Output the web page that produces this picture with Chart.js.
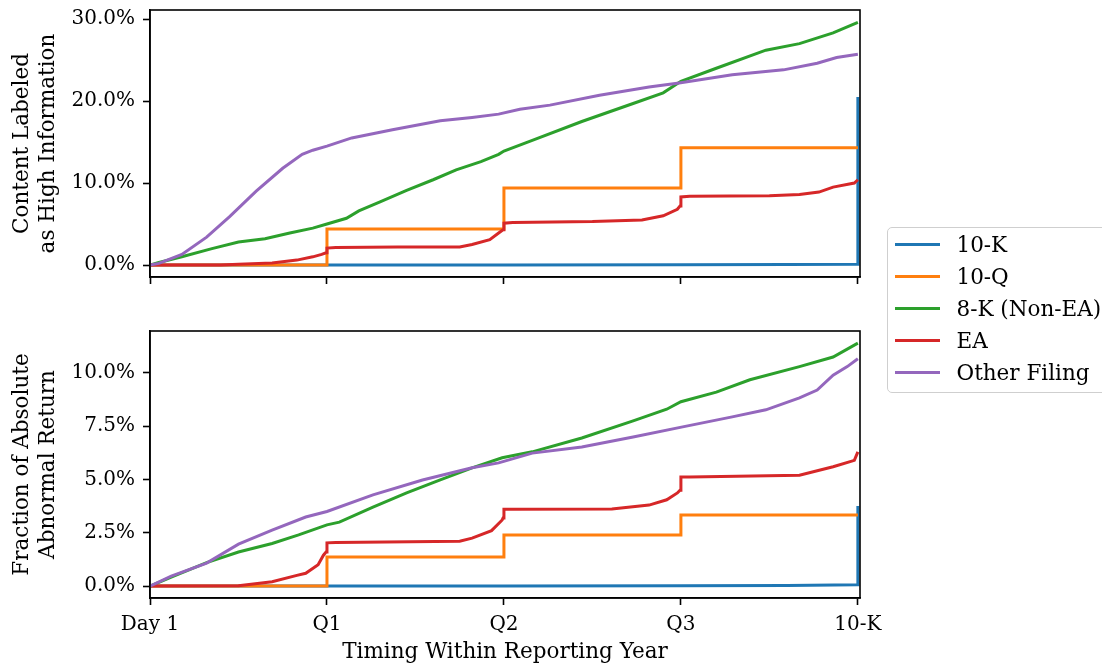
<!DOCTYPE html>
<html>
<head>
<meta charset="utf-8">
<script src="https://cdn.jsdelivr.net/npm/chart.js@4.4.1/dist/chart.umd.min.js"></script>
<style>
    html, body { margin: 0; padding: 0; background: #fff; }
    body { width: 1102px; height: 668px; overflow: hidden; position: relative; font-family: 'DejaVu Serif', serif; }
    #canvasInfo { position: absolute; left: 0; top: 0; }
    #canvasRetorno { position: absolute; left: 0; top: 300px; }
    #leyenda {
        position: absolute; left: 887px; top: 227px; width: 240px; height: 166px;
        box-sizing: border-box; border: 1.5px solid #cfcfcf; border-radius: 5px;
        background: rgba(255, 255, 255, 0.8);
    }
    .item { display: flex; align-items: center; height: 32px; font-size: 21.5px; color: #000; white-space: nowrap; }
    .muestra { width: 45px; height: 3px; margin-left: 6.5px; margin-right: 17px; flex: none; }
</style>
</head>
<body>
<canvas id="canvasInfo" width="890" height="300"></canvas>
<canvas id="canvasRetorno" width="890" height="368"></canvas>
<div id="leyenda"></div>
<script>
// eje x compartido
const xTickValues = [0, 1, 2, 3, 4];
const xTickLabels = ['Day 1', 'Q1', 'Q2', 'Q3', '10-K'];

const seriesNames = ['10-K', '10-Q', '8-K (Non-EA)', 'EA', 'Other Filing'];
const seriesColors = ['#1f77b4', '#ff7f0e', '#2ca02c', '#d62728', '#9467bd'];

// panel superior: contenido etiquetado como alta informacion (%)
const infoTickValues = [0, 10, 20, 30];
const infoTickLabels = ['0.0%', '10.0%', '20.0%', '30.0%'];

const infoX10K = [0, 1, 2, 3, 3.6, 3.998, 4.0];
const infoY10K = [0, 0, 0, 0.02, 0.05, 0.1, 20.5];

const infoX10Q = [0, 1, 1, 2, 2, 3, 3, 4];
const infoY10Q = [0, 0, 4.4, 4.4, 9.4, 9.4, 14.3, 14.3];

const infoX8K = [0, 0.05, 0.18, 0.35, 0.5, 0.65, 0.79, 0.92, 1.0, 1.11, 1.18, 1.3, 1.45, 1.6, 1.73, 1.87, 1.97, 2.0, 2.16, 2.44, 2.73, 2.9, 3.0, 3.2, 3.48, 3.67, 3.86, 4.0];
const infoY8K = [0, 0.3, 1.0, 2.0, 2.8, 3.2, 3.9, 4.5, 5.0, 5.7, 6.6, 7.7, 9.1, 10.4, 11.6, 12.6, 13.5, 13.9, 15.2, 17.5, 19.7, 21.0, 22.4, 24.0, 26.2, 27.0, 28.3, 29.6];

const infoXEA = [0, 0.4, 0.5, 0.69, 0.83, 0.92, 0.97, 0.995, 1.0, 1.05, 1.4, 1.75, 1.82, 1.92, 1.97, 1.995, 2.0, 2.05, 2.5, 2.78, 2.9, 2.98, 2.995, 3.0, 3.05, 3.5, 3.67, 3.78, 3.86, 3.98, 4.0];
const infoYEA = [0, 0, 0.1, 0.25, 0.6, 1.0, 1.3, 1.5, 2.07, 2.15, 2.2, 2.2, 2.5, 3.1, 3.9, 4.3, 5.1, 5.2, 5.3, 5.5, 6.0, 6.8, 7.2, 8.3, 8.4, 8.45, 8.6, 8.9, 9.5, 10.0, 10.4];

const infoXOther = [0, 0.05, 0.18, 0.32, 0.45, 0.6, 0.75, 0.86, 0.92, 1.0, 1.14, 1.37, 1.64, 1.82, 1.97, 2.09, 2.26, 2.54, 2.82, 2.99, 3.29, 3.58, 3.77, 3.88, 4.0];
const infoYOther = [0, 0.2, 1.3, 3.4, 5.9, 9.0, 11.8, 13.5, 14.0, 14.5, 15.5, 16.5, 17.6, 18.0, 18.4, 19.0, 19.5, 20.7, 21.7, 22.2, 23.2, 23.8, 24.6, 25.3, 25.7];

// panel inferior: fraccion del retorno anormal absoluto (%)
const retTickValues = [0, 2.5, 5, 7.5, 10];
const retTickLabels = ['0.0%', '2.5%', '5.0%', '7.5%', '10.0%'];

const retX10K = [0, 1, 2, 3, 3.6, 3.998, 4.0];
const retY10K = [0, 0, 0, 0.02, 0.03, 0.06, 3.76];

const retX10Q = [0, 1, 1, 2, 2, 3, 3, 4];
const retY10Q = [0, 0, 1.36, 1.36, 2.4, 2.4, 3.34, 3.34];

const retX8K = [0, 0.12, 0.32, 0.5, 0.69, 0.84, 1.0, 1.07, 1.26, 1.45, 1.64, 1.82, 1.99, 2.16, 2.44, 2.73, 2.92, 3.0, 3.2, 3.39, 3.67, 3.86, 4.0];
const retY8K = [0, 0.42, 1.1, 1.6, 2.0, 2.4, 2.87, 3.0, 3.7, 4.37, 4.98, 5.55, 6.02, 6.3, 6.95, 7.75, 8.3, 8.65, 9.1, 9.68, 10.3, 10.75, 11.4];

const retXEA = [0, 0.5, 0.69, 0.83, 0.88, 0.95, 0.98, 0.995, 1.0, 1.05, 1.75, 1.82, 1.93, 1.99, 1.995, 2.0, 2.05, 2.61, 2.82, 2.92, 2.98, 2.995, 3.0, 3.05, 3.67, 3.86, 3.98, 4.0];
const retYEA = [0, 0.02, 0.2, 0.5, 0.6, 1.0, 1.45, 1.6, 2.03, 2.05, 2.1, 2.25, 2.6, 3.1, 3.2, 3.6, 3.6, 3.62, 3.8, 4.05, 4.37, 4.5, 5.12, 5.12, 5.2, 5.6, 5.9, 6.3];

const retXOther = [0, 0.12, 0.32, 0.5, 0.69, 0.88, 1.0, 1.26, 1.54, 1.82, 1.97, 2.16, 2.44, 2.73, 3.01, 3.29, 3.48, 3.67, 3.77, 3.86, 3.94, 4.0];
const retYOther = [0, 0.47, 1.08, 1.97, 2.63, 3.24, 3.5, 4.28, 4.98, 5.55, 5.78, 6.24, 6.53, 7.0, 7.47, 7.94, 8.27, 8.83, 9.2, 9.9, 10.3, 10.67];

const FUENTE = 'DejaVu Serif';
Chart.defaults.font.family = FUENTE;
Chart.defaults.color = '#000';

function puntos(xs, ys) {
    return xs.map((x, i) => ({ x: x, y: ys[i] }));
}

// marco completo del area de trazado (las cuatro espinas de matplotlib)
const marco = {
    id: 'marco',
    afterDatasetsDraw(chart) {
        const { ctx, chartArea: a } = chart;
        ctx.save();
        ctx.strokeStyle = '#000';
        ctx.lineWidth = 1.6;
        ctx.strokeRect(a.left, a.top, a.right - a.left, a.bottom - a.top);
        ctx.restore();
    }
};

function dibujarPanel(canvasId, xs, ys, cfg) {
    const datasets = seriesNames.map((nombre, i) => ({
        label: nombre,
        data: puntos(xs[i], ys[i]),
        borderColor: seriesColors[i],
        borderWidth: 3,
        pointRadius: 0,
        tension: 0,
        fill: false,
        // las ultimas series quedan encima, como en el original
        order: seriesNames.length - i
    }));

    return new Chart(document.getElementById(canvasId), {
        type: 'line',
        data: { datasets: datasets },
        plugins: [marco],
        options: {
            responsive: false,
            animation: false,
            devicePixelRatio: 1,
            layout: { padding: { top: cfg.padTop, right: 30, left: 0, bottom: 0 } },
            plugins: { legend: { display: false }, tooltip: { enabled: false } },
            scales: {
                x: {
                    type: 'linear',
                    min: 0,
                    max: 4.012,
                    afterBuildTicks: s => { s.ticks = xTickValues.map(v => ({ value: v })); },
                    afterFit: s => { s.height = cfg.altoEjeX; s.paddingLeft = 0; s.paddingRight = 0; },
                    grid: { drawOnChartArea: false, drawTicks: true, tickLength: 7, tickWidth: 1.6, tickColor: '#000', color: '#000' },
                    border: { display: true, color: '#000', width: 1.6 },
                    ticks: {
                        display: cfg.mostrarX,
                        autoSkip: false,
                        maxRotation: 0,
                        padding: 8,
                        font: { size: 20 },
                        callback: (v, i) => xTickLabels[i]
                    },
                    title: {
                        display: cfg.mostrarX,
                        text: 'Timing Within Reporting Year',
                        font: { size: 21.5 },
                        padding: { top: 0, bottom: 3 }
                    }
                },
                y: {
                    type: 'linear',
                    min: cfg.yMin,
                    max: cfg.yMax,
                    afterBuildTicks: s => { s.ticks = cfg.yTicks.map(v => ({ value: v })); },
                    afterFit: s => { s.width = 150; s.paddingTop = 0; s.paddingBottom = 0; },
                    grid: { drawOnChartArea: false, drawTicks: true, tickLength: 7, tickWidth: 1.6, tickColor: '#000', color: '#000' },
                    border: { display: true, color: '#000', width: 1.6 },
                    ticks: {
                        autoSkip: false,
                        padding: 8,
                        font: { size: 20 },
                        callback: (v, i) => cfg.yLabels[i]
                    },
                    title: {
                        display: true,
                        text: cfg.titulo,
                        font: { size: 21.5, lineHeight: 1.22 },
                        padding: { top: 9, bottom: 0 }
                    }
                }
            }
        }
    });
}

function armarLeyenda() {
    const caja = document.getElementById('leyenda');
    seriesNames.forEach((nombre, i) => {
        const fila = document.createElement('div');
        fila.className = 'item';
        fila.innerHTML = `<span class="muestra" style="background:${seriesColors[i]}"></span><span>${nombre}</span>`;
        caja.appendChild(fila);
    });
}

dibujarPanel('canvasInfo',
    [infoX10K, infoX10Q, infoX8K, infoXEA, infoXOther],
    [infoY10K, infoY10Q, infoY8K, infoYEA, infoYOther],
    {
        padTop: 10, altoEjeX: 23, mostrarX: false,
        yMin: -1.46, yMax: 31.1, yTicks: infoTickValues, yLabels: infoTickLabels,
        titulo: ['Content Labeled', 'as High Information']
    });

dibujarPanel('canvasRetorno',
    [retX10K, retX10Q, retX8K, retXEA, retXOther],
    [retY10K, retY10Q, retY8K, retYEA, retYOther],
    {
        padTop: 31, altoEjeX: 70, mostrarX: true,
        yMin: -0.56, yMax: 11.97, yTicks: retTickValues, yLabels: retTickLabels,
        titulo: ['Fraction of Absolute', 'Abnormal Return']
    });

armarLeyenda();
</script>
</body>
</html>
